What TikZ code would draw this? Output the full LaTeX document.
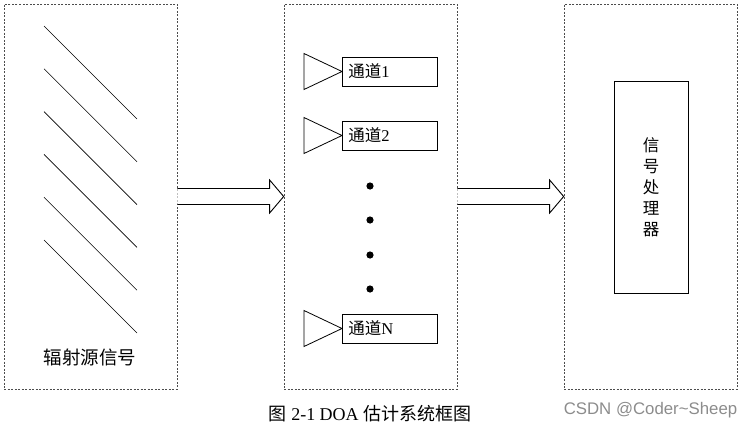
\documentclass[tikz,border=0pt]{standalone}
\usepackage{fontspec}
\setmainfont{Liberation Serif}
\newfontfamily\cjk{Noto Sans CJK SC}
\newfontfamily\marksans{Liberation Sans}
\usetikzlibrary{calc}

\begin{document}
\begin{tikzpicture}[x=1pt, y=-1pt,
        stagebox/.style={draw=black!70, dash pattern=on 2pt off 1.5pt, line width=0.7pt,
            inner sep=0pt, minimum width=173pt, minimum height=385pt},
        chanbox/.style={draw, line width=0.8pt, text width=83pt, align=left,
            inner xsep=6pt, inner ysep=0pt, minimum height=29pt, anchor=west,
            font=\fontsize{16.5}{18}\selectfont},
        procbox/.style={draw, line width=0.8pt, minimum width=74pt, minimum height=212pt,
            align=center, font=\cjk\fontsize{16.5}{21}\selectfont}]

        \useasboundingbox (0,0) rectangle (742,426);

        % Three stages
        \node[stagebox] (src)  at (90.5,196.5)  {};
        \node[stagebox] (recv) at (370.5,196.5) {};
        \node[stagebox] (proc) at (650.5,196.5) {};

        % Incoming wavefronts
        \foreach \i in {0,...,5}
            \draw[line width=0.6pt] (44,26+42.8*\i) -- ++(93,93);
        \node[font=\cjk\fontsize{18.5}{20}\selectfont] (srclabel) at (90,357) {辐射源信号};

        % Receiving channels
        \node[chanbox] (ch1) at (342,71.5)  {{\cjk 通道}1};
        \node[chanbox] (ch2) at (342,135.5) {{\cjk 通道}2};
        \node[chanbox] (chN) at (342,328.5) {{\cjk 通道}N};
        \foreach \c in {ch1,ch2,chN}
            \draw[line width=0.8pt] (\c.west) -- ++(-38,-18) -- ++(0,36) -- cycle;

        % Dots
        \foreach \y in {186,220,255,289}
            \fill (370,\y) circle[radius=3.6];

        % Signal processor
        \node[procbox] (dsp) at (651,187) {信\\号\\处\\理\\器};

        % Hollow arrows
        \foreach \a/\b in {src/recv,recv/proc}
            \draw[line width=0.9pt, fill=white]
                ($(\a.east)+(0,-8)$) -- ($(\b.west)+(-14,-8)$) -- ($(\b.west)+(-14,-16.5)$)
                -- (\b.west) -- ($(\b.west)+(-14,16.5)$) -- ($(\b.west)+(-14,8)$)
                -- ($(\a.east)+(0,8)$);

        % Caption
        \node[font=\fontsize{18}{20}\selectfont] (caption) at (370,414)
            {{\cjk 图} 2-1 DOA {\cjk 估计系统框图}};
        \node[text=black!45, font=\marksans\fontsize{16.8}{18}\selectfont] (mark) at (650.5,410)
            {CSDN @Coder\textasciitilde Sheep};

    \end{tikzpicture}
\end{document}
